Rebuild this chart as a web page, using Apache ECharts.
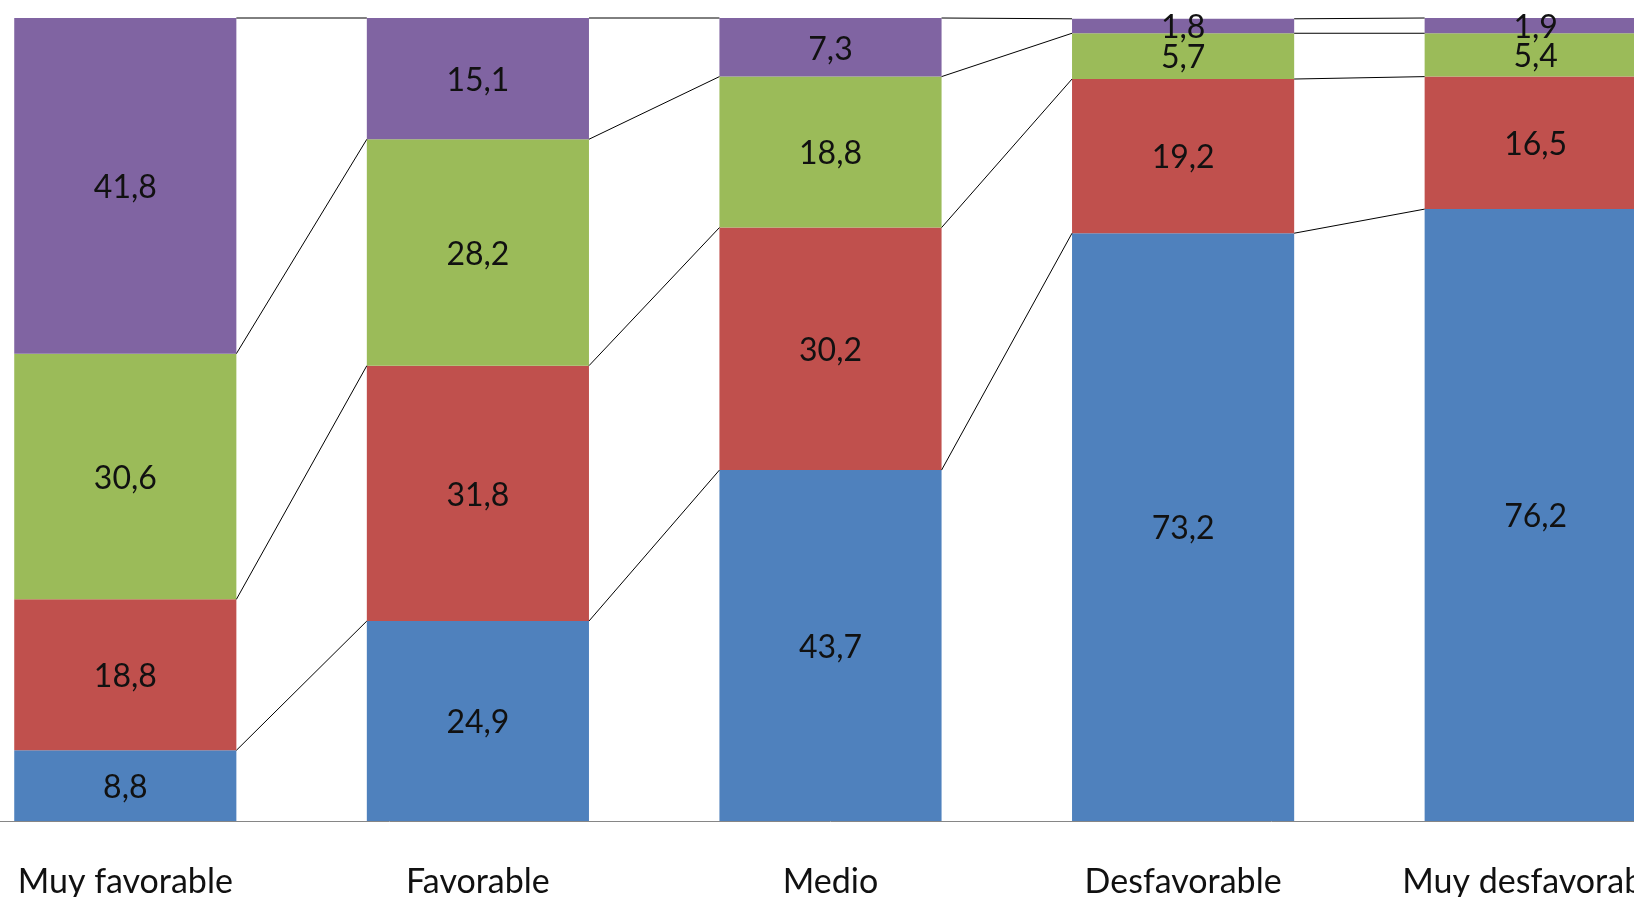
<!DOCTYPE html>
<html>
<head>
<meta charset="utf-8">
<script src="https://cdn.jsdelivr.net/npm/echarts@6/dist/echarts.min.js"></script>
<style>
html,body{margin:0;padding:0;background:#fff;overflow:hidden;width:1634px;height:897px;}
#chart{position:absolute;left:-51px;top:0;width:1763px;height:897px;}
</style>
</head>
<body>
<div id="chart"></div>
<script>
const categories = ['Muy favorable', 'Favorable', 'Medio', 'Desfavorable', 'Muy desfavorable'];
const blueValues = [8.8, 24.9, 43.7, 73.2, 76.2];
const redValues = [18.8, 31.8, 30.2, 19.2, 16.5];
const greenValues = [30.6, 28.2, 18.8, 5.7, 5.4];
const purpleValues = [41.8, 15.1, 7.3, 1.8, 1.9];

const stackSeries = [blueValues, redValues, greenValues, purpleValues];
const colors = ['#4F81BD', '#C0504D', '#9BBB59', '#8064A2'];
const BAR_RATIO = 0.63;
const FONT = 'Lato, "Open Sans", sans-serif';

function cumulative(idx, level) {
  let s = 0;
  for (let j = 0; j <= level; j++) s += stackSeries[j][idx];
  return s;
}

const lineData = [];
for (let i = 0; i < categories.length - 1; i++) {
  for (let k = 0; k < stackSeries.length; k++) lineData.push([i, k]);
}

const fmt = p => p.value.toFixed(1).replace('.', ',');

const barSeries = stackSeries.map((vals, idx) => ({
  type: 'bar',
  stack: 'total',
  data: vals,
  barWidth: (BAR_RATIO * 100) + '%',
  itemStyle: { color: colors[idx] },
  label: {
    show: true,
    position: 'inside',
    offset: [0, 2],
    formatter: fmt,
    fontFamily: FONT,
    fontSize: 32,
    color: '#111'
  },
  emphasis: { disabled: true },
  silent: true
}));

const chart = echarts.init(document.getElementById('chart'));
chart.setOption({
  animation: false,
  backgroundColor: '#fff',
  grid: { left: 0, right: 0, top: 18, bottom: 76, containLabel: false, outerBoundsMode: 'none' },
  xAxis: {
    type: 'category',
    data: categories,
    axisLine: { lineStyle: { color: '#868686', width: 1 } },
    axisTick: { show: false },
    axisLabel: { fontFamily: FONT, fontSize: 34, color: '#111', margin: 44 }
  },
  yAxis: {
    type: 'value',
    min: 0,
    max: 100,
    show: false
  },
  series: barSeries.concat([{
    type: 'custom',
    data: lineData,
    silent: true,
    z: 5,
    renderItem: function (params, api) {
      const i = api.value(0);
      const k = api.value(1);
      const p1 = api.coord([i, cumulative(i, k)]);
      const p2 = api.coord([i + 1, cumulative(i + 1, k)]);
      const half = api.size([1, 0])[0] * BAR_RATIO / 2;
      return {
        type: 'line',
        shape: { x1: p1[0] + half, y1: p1[1], x2: p2[0] - half, y2: p2[1] },
        style: { stroke: '#000', lineWidth: 1 }
      };
    }
  }])
});
</script>
</body>
</html>
